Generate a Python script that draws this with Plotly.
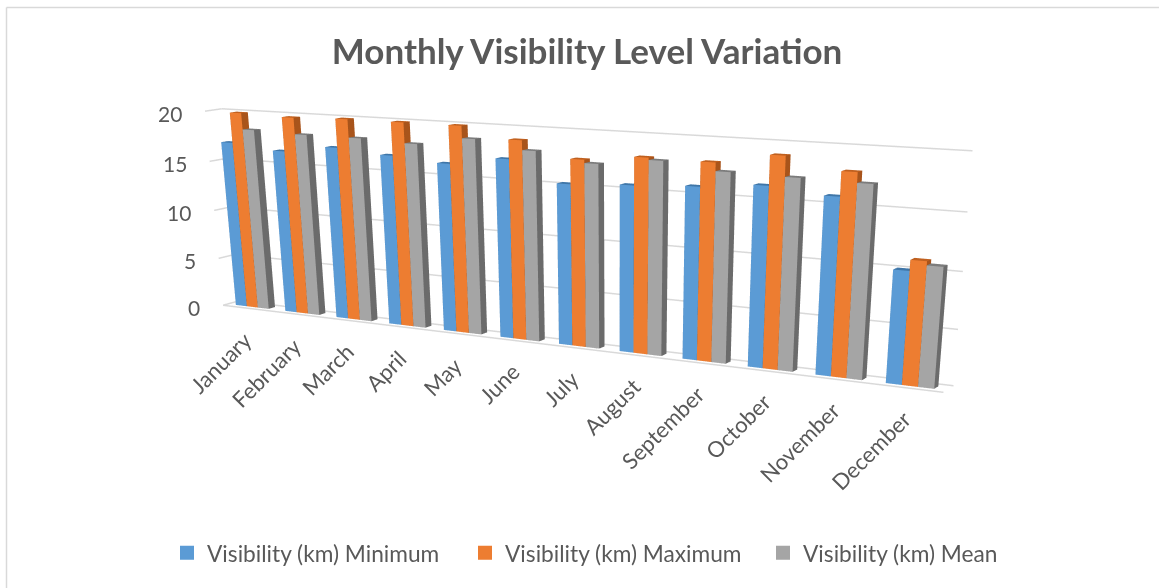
import plotly.graph_objects as go

months = ["January","February","March","April","May","June","July","August","September","October","November","December"]
v_min = [16.9,16.4,17.1,16.7,16.3,17.1,15.2,15.5,15.8,16.3,15.8,10.0]
v_max = [19.9,19.75,19.9,19.9,19.9,18.9,17.5,18.05,18.0,18.95,17.95,10.95]
v_mean = [18.3,18.15,18.15,17.95,18.75,18.0,17.2,17.85,17.25,17.15,17.05,10.6]
names = ["Visibility (km) Minimum","Visibility (km) Maximum","Visibility (km) Mean"]
ticks = [0,5,10,15,20]
colors = ["#5B9BD5","#ED7D31","#A5A5A5"]
side_colors = ["#3E7CB4","#A8541B","#6B6B6B"]
top_colors = ["#3F76A8","#C0601F","#7C7C7C"]

W = 1159
Hs = 1472  # the scene is taller than the window so that the 45 degree lens gives the flatter perspective of the original; the page crops it
eye = dict(x=4.5128,y=-7.5333,z=1.4521)
center = dict(x=1.7296,y=-2.7439,z=-1.1380)
up = dict(x=0.0106,y=0,z=1)
aspect = dict(x=4.0789,y=0.1332,z=1)

def box_mesh(vals, k):
    xs,ys,zs,i,j,kk,fc=[],[],[],[],[],[],[]
    w=1/4.5
    color,side,top=colors[k],side_colors[k],top_colors[k]
    for m,v in enumerate(vals):
        x0=m+1/6+k*w;x1=x0+w;y0,y1=.3,.7
        b=len(xs)
        for z in (0,v):
            for (x,y) in ((x0,y0),(x1,y0),(x1,y1),(x0,y1)):
                xs.append(x);ys.append(y);zs.append(z)
        faces=[((0,1,5),color),((0,5,4),color),((1,2,6),side),((1,6,5),side),((4,5,6),top),((4,6,7),top),
               ((0,3,7),side),((0,7,4),side),((2,3,7),side),((2,7,6),side),((0,1,2),side),((0,2,3),side)]
        for (a,bb,c),col in faces:
            i.append(b+a);j.append(b+bb);kk.append(b+c);fc.append(col)
    return go.Mesh3d(x=xs,y=ys,z=zs,i=i,j=j,k=kk,facecolor=fc,flatshading=True,hoverinfo="skip",showlegend=False,
        lighting=dict(ambient=1,diffuse=0,specular=0,fresnel=0,roughness=1),scene="scene")

GRID="#d9d9d9"
fig=go.Figure()
for t in ticks:
    fig.add_trace(go.Scatter3d(x=[0,0,12],y=[0,1,1],z=[t,t,t],mode="lines",line=dict(color=GRID,width=3),hoverinfo="skip",showlegend=False))
fig.add_trace(go.Scatter3d(x=[0,12],y=[0,0],z=[0,0],mode="lines",line=dict(color=GRID,width=3),hoverinfo="skip",showlegend=False))
for k,vals in enumerate([v_min,v_max,v_mean]):
    fig.add_trace(box_mesh(vals,k))
for n,c in zip(names,colors):
    fig.add_trace(go.Scatter(x=[None],y=[None],mode="markers",name=n,marker=dict(symbol="square",size=14,color=c),hoverinfo="skip"))

TXT="#595959"
ann=[dict(x=0,y=0,z=t,text=str(t),showarrow=False,xanchor="right",yanchor="middle",xshift=-21,yshift=-2,font=dict(family="Lato",size=21,color=TXT)) for t in ticks]
ann+=[dict(x=i+.5,y=0,z=0,text=m,showarrow=False,textangle=-45,xanchor="right",yanchor="top",xshift=12,yshift=-15,font=dict(family="Lato",size=22,color=TXT)) for i,m in enumerate(months)]
ax=dict(visible=False,showgrid=False,zeroline=False,showspikes=False)
fig.update_layout(width=W,height=Hs,margin=dict(l=0,r=0,t=0,b=0),paper_bgcolor="white",plot_bgcolor="rgba(0,0,0,0)",
    title=dict(text="<b>Monthly Visibility Level Variation</b>",x=0.5065,xanchor="center",y=1-52/Hs,yanchor="middle",font=dict(family="Lato",size=35,color=TXT)),
    xaxis=dict(visible=False),yaxis=dict(visible=False),
    legend=dict(orientation="h",x=167/W,y=1-553/Hs,xanchor="left",yanchor="middle",entrywidth=253,entrywidthmode="pixels",font=dict(family="Lato",size=22.7,color=TXT),bgcolor="rgba(0,0,0,0)"),
    scene=dict(domain=dict(x=[0,1],y=[0,1]),dragmode="orbit",xaxis=dict(range=[0,12],**ax),yaxis=dict(range=[0,1],**ax),zaxis=dict(range=[0,20],**ax),
        aspectmode="manual",aspectratio=aspect,
        camera=dict(eye=eye,center=center,up=up,projection=dict(type="perspective")),
        annotations=ann),
    shapes=[dict(type="line",xref="paper",yref="paper",x0=6.5/W,x1=1,y0=1-7.5/Hs,y1=1-7.5/Hs,line=dict(color="#d9d9d9",width=1.5)),
            dict(type="line",xref="paper",yref="paper",x0=6.5/W,x1=6.5/W,y0=0,y1=1-7.5/Hs,line=dict(color="#d9d9d9",width=1.5))])
fig.write_html("out.html",config=dict(displayModeBar=False),post_script="document.body.style.margin='0';document.body.style.overflow='hidden';document.documentElement.style.overflow='hidden';")
